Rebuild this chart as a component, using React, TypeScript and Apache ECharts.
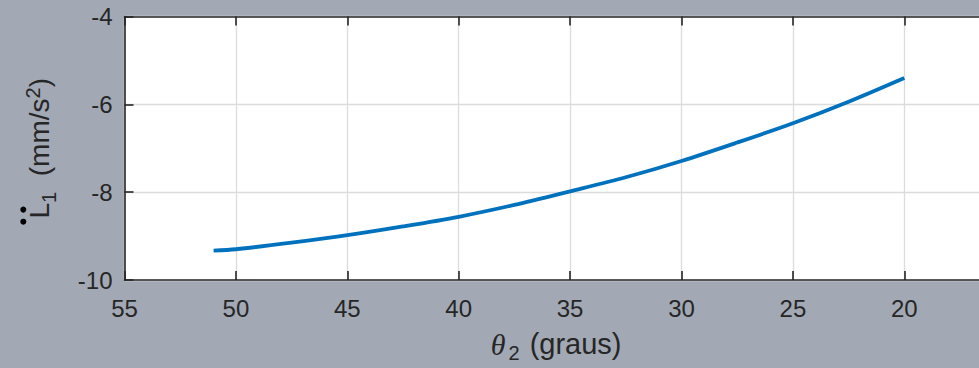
import React, { useEffect, useRef } from "react";
import * as echarts from "echarts";

// θ2 (graus) and L̈1 (mm/s²)
const thetaDeg = [51, 50, 47.5, 45, 42.5, 40, 37.5, 35, 32.5, 30, 27.5, 25, 22.5, 20];
const accel = [-9.33, -9.3, -9.15, -8.98, -8.78, -8.56, -8.29, -7.98, -7.66, -7.29, -6.87, -6.43, -5.94, -5.4];

const xMin = 15;
const xMax = 55;
const xStep = 5;
const yMin = -10;
const yMax = -4;
const yStep = 2;

const FONT = "'Liberation Sans', Arial, Helvetica, sans-serif";
const SERIF = "'Liberation Serif', 'DejaVu Serif', serif";
const INK = "#262626";

export default function App() {
  const ref = useRef<HTMLDivElement>(null);
  useEffect(() => {
    if (!ref.current) return;
    const chart = echarts.init(ref.current, undefined, { renderer: "svg" });
    const data = thetaDeg.map((t, i) => [t, accel[i]]);
    const axisLine = { show: true, lineStyle: { color: INK, width: 1.6 } };
    const axisTick = { show: true, inside: true, length: 9, lineStyle: { color: INK, width: 1.6 } };
    chart.setOption({
      animation: false,
      backgroundColor: "#a2a9b4",
      grid: {
        left: 124.5,
        right: 4.3,
        top: 16.5,
        bottom: 88,
        outerBoundsMode: "none",
        containLabel: false,
        show: true,
        backgroundColor: "#ffffff",
        borderWidth: 0,
      },
      graphic: [
        { type: "circle", shape: { cx: 23.3, cy: 209.6, r: 3 }, style: { fill: "#000" }, silent: true },
        { type: "circle", shape: { cx: 23.3, cy: 221.7, r: 3 }, style: { fill: "#000" }, silent: true },
      ],
      xAxis: [
        {
          type: "value",
          inverse: true,
          min: xMin,
          max: xMax,
          interval: xStep,
          position: "bottom",
          axisLine,
          axisTick,
          axisLabel: {
            color: INK,
            fontSize: 24,
            fontFamily: FONT,
            margin: 16,
            formatter: (v: number) => (v === xMin ? "" : String(v)),
          },
          splitLine: { show: true, lineStyle: { color: "#dcdcdc", width: 1.3 } },
          name: "{th|θ}{sub|2} (graus)",
          nameLocation: "middle",
          nameGap: 45,
          nameTextStyle: {
            color: INK,
            fontSize: 29,
            fontFamily: FONT,
            padding: [0, 28, 0, 0],
            rich: {
              th: { fontFamily: SERIF, fontStyle: "italic", fontSize: 30, color: INK },
              sub: { fontSize: 20, fontFamily: FONT, color: INK, padding: [18, 2, 0, 3] },
            },
          },
        },
        {
          type: "value",
          inverse: true,
          min: xMin,
          max: xMax,
          interval: xStep,
          position: "top",
          axisLine,
          axisTick,
          axisLabel: { show: false },
          splitLine: { show: false },
        },
      ],
      yAxis: {
        type: "value",
        min: yMin,
        max: yMax,
        interval: yStep,
        axisLine,
        axisTick,
        axisLabel: { color: INK, fontSize: 24, fontFamily: FONT, margin: 12 },
        splitLine: { show: true, lineStyle: { color: "#dcdcdc", width: 1.3 } },
        name: "{l|L}{sub|1}  (mm/s{sup|2})",
        nameLocation: "middle",
        nameGap: 66,
        nameRotate: 90,
        nameTextStyle: {
          color: INK,
          fontSize: 28,
          fontFamily: FONT,
          rich: {
            l: { fontSize: 28, fontFamily: FONT, color: INK },
            sub: { fontSize: 20, fontFamily: FONT, color: INK, padding: [18, 0, 0, 0] },
            sup: { fontSize: 20, fontFamily: FONT, color: INK, padding: [0, 0, 14, 0] },
          },
        },
      },
      series: [
        {
          type: "line",
          xAxisIndex: 0,
          data,
          smooth: 0.3,
          symbol: "none",
          lineStyle: { color: "#0072BD", width: 3.8 },
        },
      ],
    });
    return () => chart.dispose();
  }, []);
  return (
    <div style={{ position: "fixed", left: 0, top: 0, width: 979, height: 368, overflow: "hidden" }}>
      <div ref={ref} style={{ width: 1020, height: 368 }} />
    </div>
  );
}
